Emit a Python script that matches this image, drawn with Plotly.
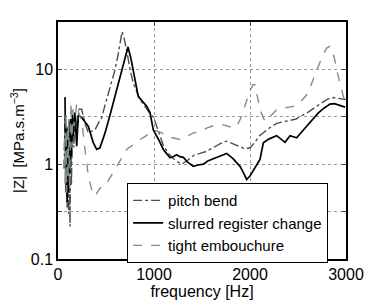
import plotly.graph_objects as go

# slurred register change (solid black)
f_slur = [73,80,88,95,100,107,115,122,130,140,150,160,175,195,211,247,281,316,368,403,437,490,542,594,650,700,729,760,800,836,880,924,958,993,1050,1097,1130,1167,1200,1236,1270,1306,1350,1410,1460,1514,1560,1618,1680,1757,1820,1896,1930,1965,2000,2035,2070,2104,2139,2200,2278,2320,2365,2417,2486,2540,2590,2650,2712,2770,2833,2880,2930,2990]
z_slur = [5.1,1.0,2.5,0.4,1.8,0.5,2.8,0.8,3.0,1.2,3.3,2.0,3.5,1.55,3.3,3.1,2.8,2.5,1.68,1.43,1.49,2.14,3.3,5.2,8.5,13,17.2,13,8,5.2,4.6,4.1,3.5,2.3,1.8,1.43,1.3,1.17,1.2,1.26,1.2,1.18,1.05,0.95,0.98,1.0,1.08,1.14,1.2,1.3,1.15,0.95,0.82,0.69,0.75,0.86,1.0,1.12,1.68,1.85,2.0,1.85,1.7,2.0,1.9,2.2,2.5,2.9,3.47,3.9,4.3,4.35,4.2,4.0]

# pitch bend (dash-dot)
f_pitch = [65,72,80,88,95,103,110,118,125,133,140,150,165,180,200,220,247,281,316,351,385,420,455,490,524,560,594,630,667,690,715,750,784,820,854,890,924,960,997,1050,1100,1150,1200,1250,1288,1350,1420,1480,1549,1620,1690,1757,1820,1896,1950,2000,2050,2100,2150,2200,2278,2340,2400,2480,2550,2600,2680,2750,2800,2851,2900,2950,3000]
z_pitch = [0.9,3.0,0.5,2.2,0.35,2.5,0.3,1.8,0.22,2.5,0.6,3.0,1.5,3.5,2.2,3.8,3.8,2.7,2.14,2.2,2.3,2.7,3.1,4.2,5.6,7.5,9.9,15,25,21,16,10,7.2,5.8,4.8,4.3,3.8,3.4,3.1,2.2,1.55,1.3,1.15,1.05,1.0,1.1,1.25,1.3,1.37,1.5,1.65,1.75,1.65,1.55,1.45,1.49,1.7,2.0,2.2,2.4,2.7,2.8,2.9,3.0,3.3,3.5,4.0,4.5,4.8,5.07,5.0,4.9,4.8]

# tight embouchure (dashed)
f_tight = [60,68,75,83,90,98,105,112,120,128,136,145,155,170,195,220,247,281,316,351,385,437,490,542,594,650,715,784,854,920,993,1050,1115,1190,1271,1340,1410,1479,1549,1618,1680,1722,1780,1826,1870,1913,1960,2000,2030,2052,2080,2104,2156,2200,2278,2350,2420,2486,2540,2590,2640,2694,2750,2799,2830,2851,2880,2903,2940,2972,3000]
z_tight = [0.9,2.0,0.6,3.5,0.5,2.5,0.7,3.0,0.55,2.0,4.5,1.5,3.8,2.5,4.4,3.3,2.95,1.43,0.75,0.54,0.46,0.56,0.59,0.72,0.88,1.1,1.43,1.6,1.82,2.0,2.3,2.2,2.05,1.9,1.82,1.95,2.14,2.2,2.4,2.55,2.6,2.6,2.5,2.4,2.6,3.2,4.5,5.97,6.9,6.9,5.0,3.77,2.83,3.1,3.77,3.9,4.0,4.15,4.7,5.4,7.0,9.9,13.5,16.8,17.5,16.4,13,9.9,7.0,5.2,4.5]

y_tickvals = [0.1, 0.316, 1, 3.16, 10, 31.6]
y_ticktext = ["0.1", "", "1", "", "10", ""]
x_tickvals = [0, 1000, 2000, 3000]

fig = go.Figure()
fig.add_trace(go.Scatter(x=f_pitch, y=z_pitch, mode="lines", name="pitch bend",
                         line=dict(color="#4d4d4d", width=1.4, dash="dashdot")))
fig.add_trace(go.Scatter(x=f_slur, y=z_slur, mode="lines", name="slurred register change",
                         line=dict(color="black", width=1.7)))
fig.add_trace(go.Scatter(x=f_tight, y=z_tight, mode="lines", name="tight embouchure",
                         line=dict(color="#7f8d8b", width=1.4, dash="dash")))

font = "Liberation Sans, Arial, sans-serif"
fig.update_layout(
    width=374, height=292,
    margin=dict(l=50, r=36, t=14, b=41),
    paper_bgcolor="white", plot_bgcolor="white",
    font=dict(family=font, size=16, color="black"),
    showlegend=True,
    legend=dict(x=0.24, y=0.32, xanchor="left", yanchor="top",
                bgcolor="white", bordercolor="black", borderwidth=1,
                font=dict(size=15), itemwidth=30, tracegroupgap=0),
    xaxis=dict(range=[0, 3000], tickvals=x_tickvals, ticks="inside", ticklen=4,
               showline=True, linecolor="black", linewidth=1.5, mirror="allticks",
               showgrid=True, gridcolor="#999999", griddash="dot", gridwidth=1,
               zeroline=False, automargin=False, tickfont=dict(size=16),
               title=dict(text="frequency [Hz]", standoff=0, font=dict(size=16))),
    yaxis=dict(type="log", range=[-1, 1.5], tickvals=y_tickvals, ticktext=y_ticktext,
               ticks="inside", ticklen=4,
               showline=True, linecolor="black", linewidth=1.5, mirror="allticks",
               showgrid=True, gridcolor="#999999", griddash="dot", gridwidth=1,
               zeroline=False, automargin=False, tickfont=dict(size=16),
               title=dict(text="|Z|  [MPa.s.m<sup>−3</sup>]", standoff=6, font=dict(size=15))),
)

fig.write_html("out.html")
